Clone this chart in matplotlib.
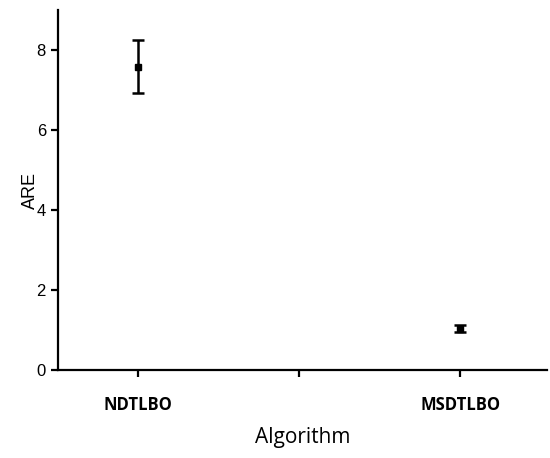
import matplotlib.pyplot as plt
from matplotlib.ticker import FixedLocator

algorithms = ['NDTLBO', 'MSDTLBO']
are_mean = [7.58, 1.03]
are_err = [0.66, 0.09]

fig = plt.figure(figsize=(5.5, 4.58), dpi=100)
ax = fig.add_axes([0.105, 0.192, 0.89, 0.786])

xpos = [1, 2]
ax.errorbar(xpos, are_mean, yerr=are_err, fmt='s', color='black', ecolor='black',
            markersize=5, elinewidth=1.8, capsize=4, capthick=1.8)

ax.set_xlim(0.75, 2.27)
ax.set_ylim(0, 9)
ax.set_yticks([0, 2, 4, 6, 8])
ax.set_xticks(xpos)
ax.set_xticklabels(algorithms, fontfamily='Open Sans', fontweight='bold', fontsize=12)
ax.xaxis.set_minor_locator(FixedLocator([1.5]))

for side in ['top', 'right']:
    ax.spines[side].set_visible(False)
for side in ['left', 'bottom']:
    ax.spines[side].set_linewidth(1.6)

ax.tick_params(axis='y', which='major', length=5, width=1.6, labelsize=12, direction='out')
ax.tick_params(axis='x', which='both', length=5, width=1.6, direction='out', pad=14)
for lab in ax.get_yticklabels():
    lab.set_fontfamily('Liberation Sans')

ax.set_ylabel('ARE', fontfamily='Liberation Sans', fontsize=13, labelpad=-2)
ax.set_xlabel('Algorithm', fontfamily='Open Sans', fontsize=15, labelpad=9)

plt.savefig('out.png', dpi=100)
